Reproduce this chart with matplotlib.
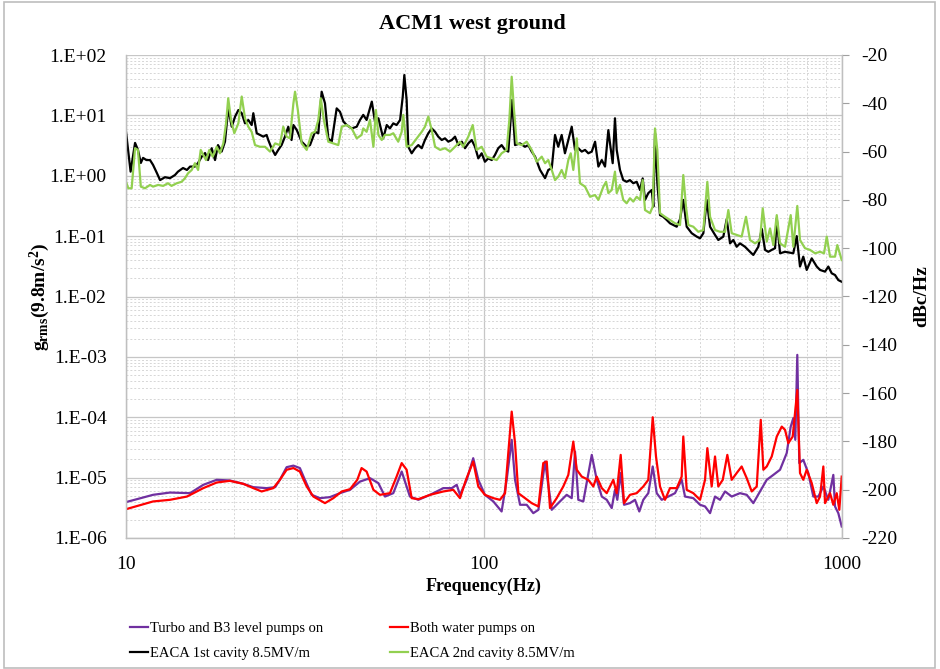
import math
import matplotlib as mpl
mpl.use('Agg')
import matplotlib.pyplot as plt
from matplotlib.ticker import FixedLocator, FuncFormatter, LogLocator, NullFormatter
from matplotlib.patches import Rectangle

plt.rcParams['font.family'] = ['Liberation Serif', 'DejaVu Serif']
plt.rcParams['mathtext.fontset'] = 'custom'
plt.rcParams['mathtext.rm'] = 'Liberation Serif'
plt.rcParams['mathtext.it'] = 'Liberation Serif:italic'
plt.rcParams['mathtext.bf'] = 'Liberation Serif:bold'
plt.rcParams['axes.unicode_minus'] = False

# Turbo and B3 level pumps on (g_rms, left axis)
f_turbo = [10.0, 11.9, 13.27, 15.1, 16.44, 17.92, 19.5, 21.27, 22.68, 24.7, 26.1, 26.9, 28.1, 29.35,
           30.6, 31.6, 33.0, 34.8, 37.1, 39.6, 42.25, 45.04, 48.04, 50.7, 52.9, 55.8, 58.9, 62.1,
           65.55, 70.7, 77.0, 81.3, 83.9, 85.7, 89.5, 93.3, 96.4, 100.6, 106.2, 112.0, 115.7, 119.5,
           122.1, 126.1, 131.6, 137.3, 141.9, 148.1, 154.6, 163.0, 170.2, 175.8, 179.6, 183.4, 189.4,
           200.0, 206.5, 213.3, 220.2, 227.4, 232.2, 235.7, 240.9, 246.1, 255.7, 264.1, 271.5, 278.6,
           287.7, 296.0, 303.7, 313.6, 327.2, 341.6, 356.6, 364.3, 384.3, 401.3, 414.4, 428.0, 441.9,
           456.3, 471.3, 492.0, 518.8, 541.8, 565.3, 590.2, 616.3, 643.0, 671.3, 700.8, 719.0, 731.1,
           740.6, 750.1, 759.8, 779.6, 805.2, 831.6, 858.9, 886.9, 915.8, 945.7, 956.1, 976.6, 998.2]
g_turbo = [3.93e-6, 5.19e-6, 5.66e-6, 5.53e-6, 7.6e-6, 9.2e-6, 8.97e-6, 7.89e-6, 6.95e-6, 6.7e-6,
           6.95e-6, 9.2e-6, 1.49e-5, 1.58e-5, 1.44e-5, 9.2e-6, 5.19e-6, 4.57e-6, 4.75e-6, 5.53e-6,
           6.28e-6, 8.6e-6, 9.8e-6, 8.1e-6, 4.86e-6, 5.53e-6, 1.26e-5, 4.86e-6, 4.29e-6, 5.19e-6,
           6.7e-6, 6.7e-6, 7.6e-6, 5.19e-6, 9.2e-6, 2.1e-5, 9.2e-6, 5.19e-6, 4.03e-6, 2.75e-6,
           9.2e-6, 4.23e-5, 9.2e-6, 3.55e-6, 3.55e-6, 2.58e-6, 2.93e-6, 1.85e-5, 2.93e-6, 4.03e-6,
           5.19e-6, 4.57e-6, 2.7e-5, 4.29e-6, 4.03e-6, 2.38e-5, 9.2e-6, 4.86e-6, 4.29e-6, 3.13e-6,
           6.28e-6, 4.29e-6, 1.19e-5, 3.55e-6, 3.78e-6, 4.29e-6, 2.75e-6, 4.29e-6, 5.53e-6, 1.53e-5,
           5.53e-6, 4.29e-6, 4.86e-6, 5.53e-6, 9.2e-6, 4.86e-6, 4.57e-6, 3.55e-6, 3.33e-6, 2.58e-6,
           4.86e-6, 4.29e-6, 5.9e-6, 4.86e-6, 5.53e-6, 5.19e-6, 3.78e-6, 5.9e-6, 9.2e-6, 1.11e-5,
           1.35e-5, 2.55e-5, 7.0e-5, 9.66e-5, 4.23e-5, 1.08e-3, 1.74e-5, 1.97e-5, 1.19e-5, 4.86e-6,
           4.86e-6, 7.13e-6, 4.29e-6, 1.11e-5, 3.33e-6, 2.58e-6, 1.55e-6]

# Both water pumps on (g_rms, left axis)
f_water = [10.0, 11.9, 13.27, 14.8, 16.44, 17.92, 19.5, 21.27, 22.68, 23.93, 25.8, 26.9, 28.1, 29.35,
           30.6, 31.97, 33.37, 35.96, 37.94, 40.05, 42.25, 44.27, 45.5, 47.0, 49.1, 51.2, 54.6, 57.0,
           58.9, 60.8, 62.8, 65.55, 70.7, 77.0, 82.1, 85.7, 89.05, 93.3, 96.4, 100.6, 106.2, 110.8,
           114.5, 116.9, 119.5, 122.1, 124.7, 130.2, 135.9, 141.9, 146.4, 149.7, 152.9, 159.6, 166.5,
           172.0, 177.6, 181.6, 187.5, 195.6, 202.0, 206.5, 213.3, 220.2, 229.7, 234.8, 240.9, 246.1,
           255.7, 267.0, 278.6, 287.7, 296.0, 302.3, 310.2, 320.3, 330.8, 345.4, 356.6, 360.3, 368.3,
           384.3, 401.3, 414.4, 420.6, 432.5, 441.9, 451.3, 464.4, 478.3, 492.0, 507.9, 524.5, 541.8,
           559.6, 577.8, 593.0, 603.0, 616.3, 636.4, 657.3, 678.8, 693.3, 707.9, 728.3, 750.1, 763.3,
           779.6, 796.9, 823.1, 850.0, 868.3, 886.9, 896.6, 925.9, 945.7, 966.5, 982.9, 998.2]
g_water = [3.0e-6, 4.03e-6, 4.29e-6, 4.86e-6, 6.7e-6, 8.3e-6, 8.85e-6, 7.89e-6, 6.7e-6, 5.9e-6,
           6.7e-6, 9.2e-6, 1.35e-5, 1.44e-5, 1.26e-5, 7.13e-6, 4.86e-6, 3.78e-6, 4.57e-6, 5.9e-6,
           6.44e-6, 9.2e-6, 1.44e-5, 1.26e-5, 6.28e-6, 5.19e-6, 5.53e-6, 1.04e-5, 1.74e-5, 1.35e-5,
           4.57e-6, 4.4e-6, 5.19e-6, 5.9e-6, 6.28e-6, 4.57e-6, 9.2e-6, 1.85e-5, 7.13e-6, 5.19e-6,
           4.57e-6, 4.29e-6, 5.53e-6, 2.55e-5, 1.24e-4, 3.72e-5, 5.53e-6, 4.57e-6, 3.78e-6, 3.33e-6,
           1.74e-5, 1.85e-5, 3.13e-6, 4.57e-6, 7.13e-6, 1.11e-5, 3.96e-5, 1.35e-5, 1.04e-5, 9.2e-6,
           7.13e-6, 1.04e-5, 6.7e-6, 5.53e-6, 9.2e-6, 5.53e-6, 2.38e-5, 3.78e-6, 5.19e-6, 5.53e-6,
           7.13e-6, 9.2e-6, 1.0e-4, 2.24e-5, 7.13e-6, 4.29e-6, 6.7e-6, 6.7e-6, 1.04e-5, 4.79e-5,
           6.28e-6, 5.53e-6, 4.29e-6, 9.2e-6, 3.08e-5, 7.13e-6, 2.24e-5, 7.13e-6, 9.2e-6, 2.38e-5,
           9.2e-6, 1.19e-5, 1.53e-5, 9.8e-6, 5.9e-6, 7.13e-6, 9.06e-5, 1.35e-5, 1.53e-5, 2.24e-5,
           4.79e-5, 7.0e-5, 6.18e-5, 3.72e-5, 4.79e-5, 2.84e-4, 1.19e-5, 9.2e-6, 1.35e-5, 8.1e-6,
           3.78e-6, 4.86e-6, 1.53e-5, 3.78e-6, 5.53e-6, 3.55e-6, 5.53e-6, 2.93e-6, 1.04e-5]

# EACA 1st cavity 8.5MV/m (dBc/Hz, right axis)
f_cav1 = [10.0, 10.3, 10.6, 10.8, 11.0, 11.16, 11.4, 11.67, 11.9, 12.2, 12.45, 12.85, 13.27, 13.7,
          13.97, 14.43, 14.8, 15.1, 15.58, 15.9, 16.27, 16.63, 16.95, 17.35, 17.73, 18.07, 18.5, 18.9,
          19.3, 19.74, 20.17, 20.6, 21.05, 21.5, 21.96, 22.44, 22.68, 23.18, 23.67, 24.18, 24.7, 24.97,
          25.5, 26.1, 26.63, 27.2, 27.8, 28.4, 29.0, 29.35, 30.0, 30.95, 31.97, 32.66, 33.73, 34.45,
          35.2, 35.96, 36.74, 37.55, 38.77, 39.6, 40.5, 41.35, 42.7, 44.1, 45.04, 46.0, 47.0, 48.6,
          49.6, 50.7, 52.3, 53.5, 54.6, 55.8, 57.0, 58.3, 59.3, 59.9, 60.8, 61.45, 62.8, 64.2, 65.55,
          67.0, 68.4, 69.9, 71.45, 73.0, 74.5, 76.2, 77.8, 79.5, 81.3, 83.0, 84.8, 86.7, 88.5, 90.4,
          92.4, 94.4, 96.4, 98.5, 100.6, 102.8, 105.1, 107.3, 109.6, 112.0, 114.5, 116.9, 119.8, 122.1,
          126.1, 130.2, 133.0, 135.9, 138.9, 143.4, 148.1, 151.2, 154.6, 157.9, 161.2, 164.8, 168.3,
          172.0, 175.8, 179.6, 183.4, 187.5, 191.5, 195.6, 200.0, 204.3, 208.7, 213.3, 217.8, 222.5,
          224.9, 228.8, 232.2, 234.8, 239.8, 244.9, 250.3, 255.7, 261.2, 267.0, 272.8, 277.5, 281.7,
          287.7, 294.1, 297.2, 300.4, 304.9, 310.2, 316.8, 323.8, 330.8, 337.9, 345.4, 352.8, 360.3,
          368.3, 380.4, 392.8, 401.3, 409.9, 419.0, 428.0, 441.9, 451.3, 466.1, 476.4, 486.7, 497.1,
          507.9, 518.8, 535.8, 553.4, 565.3, 583.8, 596.8, 609.5, 622.6, 636.4, 650.1, 657.3, 671.3,
          693.3, 731.1, 747.3, 763.3, 779.6, 796.9, 823.1, 850.0, 868.3, 896.6, 915.8, 936.1, 956.1,
          976.6, 998.2]
db_cav1 = [-51.8, -68.3, -56.4, -59.3, -64.7, -62.6, -63.5, -63.5, -65.5, -68.9, -71.8, -70.6, -71.0,
           -69.7, -68.3, -66.8, -67.6, -66.2, -66.2, -64.7, -62.1, -60.6, -63.5, -58.6, -63.5, -57.3,
           -60.0, -55.9, -42.1, -49.7, -45.5, -42.8, -44.1, -48.3, -46.9, -49.0, -44.1, -52.4, -53.1,
           -53.8, -53.1, -55.2, -58.6, -61.4, -59.3, -57.3, -53.8, -49.7, -55.2, -49.0, -51.1, -55.9,
           -58.0, -57.3, -51.8, -52.4, -35.2, -40.0, -54.5, -55.9, -42.1, -43.5, -47.6, -49.0, -50.4,
           -49.7, -46.9, -44.8, -46.9, -39.3, -47.6, -46.2, -54.5, -49.0, -50.4, -48.3, -49.0, -46.9,
           -37.2, -28.3, -38.6, -58.0, -60.7, -58.6, -57.3, -58.6, -55.2, -52.4, -50.4, -51.8, -53.8,
           -55.2, -54.5, -55.9, -55.2, -53.8, -57.3, -55.9, -58.6, -56.6, -55.2, -58.0, -62.8, -60.7,
           -64.2, -62.8, -63.5, -61.4, -58.6, -57.3, -59.3, -60.0, -38.6, -57.3, -56.6, -58.0, -57.3,
           -60.0, -62.1, -67.6, -71.0, -67.6, -66.9, -53.1, -58.0, -53.1, -60.7, -55.2, -49.7, -59.3,
           -58.6, -60.0, -59.3, -60.7, -60.0, -55.9, -66.2, -63.5, -66.2, -51.1, -56.6, -64.8, -46.2,
           -59.3, -67.6, -71.8, -72.5, -71.8, -73.1, -72.5, -75.9, -71.1, -80.0, -77.2, -75.9, -82.8,
           -52.4, -73.1, -86.3, -87.0, -88.3, -89.7, -90.4, -91.1, -88.0, -80.0, -91.1, -93.8, -95.2,
           -95.9, -93.8, -80.0, -91.1, -94.5, -96.6, -95.2, -88.0, -98.0, -96.6, -99.4, -98.0, -99.4,
           -101.5, -102.8, -99.4, -92.0, -100.7, -101.5, -100.7, -100.0, -87.6, -102.1, -101.5, -102.1,
           -95.0, -107.6, -103.5, -109.0, -104.2, -107.6, -109.0, -109.7, -107.6, -110.4, -111.1,
           -113.2, -113.9]

# EACA 2nd cavity 8.5MV/m (dBc/Hz, right axis)
f_cav2 = [10.0, 10.15, 10.37, 10.6, 10.8, 11.0, 11.3, 11.67, 11.9, 12.3, 12.7, 13.1, 13.4, 13.86,
          14.3, 14.6, 14.9, 15.26, 15.58, 15.9, 16.17, 16.44, 16.73, 17.09, 17.47, 17.92, 18.3, 18.7,
          19.03, 19.3, 19.65, 20.07, 20.6, 21.05, 21.5, 21.96, 22.44, 22.93, 23.67, 24.45, 25.25, 26.1,
          26.9, 27.5, 28.1, 28.7, 29.35, 29.66, 30.2, 30.95, 31.97, 33.0, 33.73, 34.45, 35.0, 35.7,
          36.74, 37.94, 39.17, 40.05, 41.35, 42.7, 44.1, 45.5, 46.0, 47.0, 48.04, 49.1, 49.9, 50.7,
          51.8, 52.9, 54.6, 55.8, 57.6, 58.9, 59.5, 60.8, 62.8, 64.9, 67.0, 68.4, 69.9, 71.45, 73.0,
          75.4, 77.8, 80.4, 83.0, 85.7, 87.5, 90.4, 93.0, 95.4, 98.5, 101.7, 105.1, 108.5, 112.0,
          115.7, 117.7, 119.5, 121.3, 123.4, 127.5, 131.6, 135.9, 140.4, 145.0, 148.1, 151.2, 154.6,
          157.9, 161.2, 164.8, 168.3, 172.0, 174.7, 177.6, 181.6, 185.4, 191.5, 197.8, 204.3, 208.7,
          215.5, 219.3, 222.5, 227.4, 232.2, 234.8, 239.8, 244.9, 250.3, 255.7, 261.2, 267.0, 272.8,
          277.5, 281.7, 290.9, 296.0, 300.4, 304.9, 310.2, 320.3, 330.8, 341.6, 352.8, 360.3, 366.6,
          372.2, 384.3, 396.8, 409.9, 420.6, 428.0, 441.9, 456.3, 471.3, 481.4, 492.0, 507.9, 524.5,
          539.3, 553.4, 571.5, 590.2, 600.6, 616.3, 629.5, 643.0, 657.3, 671.3, 693.3, 719.0, 731.1,
          750.1, 763.3, 788.1, 814.1, 840.8, 868.3, 890.9, 906.5, 925.9, 956.1, 970.3, 998.2]
db_cav2 = [-72.5, -75.2, -75.2, -58.6, -59.3, -74.5, -75.2, -73.8, -74.5, -73.8, -74.2, -73.1, -74.2,
           -73.1, -72.5, -71.1, -69.0, -67.6, -64.8, -67.6, -59.3, -61.4, -63.5, -59.3, -62.1, -58.0,
           -60.7, -56.6, -48.3, -37.9, -46.9, -52.4, -48.3, -37.2, -46.2, -49.7, -51.8, -57.3, -58.0,
           -58.0, -60.0, -56.6, -57.3, -49.7, -53.8, -54.5, -40.0, -35.2, -42.8, -56.6, -59.3, -52.4,
           -51.8, -46.9, -37.9, -46.9, -55.9, -56.6, -57.3, -49.7, -49.0, -50.4, -54.5, -53.1, -50.4,
           -51.8, -46.9, -58.0, -42.8, -53.1, -55.2, -53.1, -53.1, -52.4, -55.9, -51.8, -44.8, -58.0,
           -57.3, -54.5, -51.8, -49.7, -45.5, -51.1, -58.0, -59.3, -58.6, -60.0, -58.0, -55.9, -58.0,
           -53.8, -49.0, -59.3, -58.0, -62.1, -62.8, -63.5, -60.7, -59.3, -46.9, -29.0, -42.8, -56.6,
           -57.3, -55.9, -59.3, -64.2, -62.1, -64.8, -63.5, -67.6, -71.8, -70.4, -67.6, -71.0, -63.5,
           -60.7, -67.6, -54.5, -73.1, -74.5, -78.7, -78.0, -80.0, -74.5, -72.5, -77.2, -75.9, -68.3,
           -77.2, -73.8, -80.0, -81.4, -79.3, -80.7, -78.7, -80.0, -71.8, -84.2, -85.5, -82.8, -50.4,
           -59.3, -85.5, -87.0, -88.3, -89.7, -90.4, -69.7, -82.8, -90.4, -91.1, -93.2, -92.5, -72.5,
           -87.0, -92.5, -93.2, -93.2, -84.2, -93.8, -94.5, -95.2, -87.0, -96.6, -98.0, -96.6, -83.5,
           -97.3, -91.8, -98.7, -86.3, -98.0, -99.4, -86.3, -99.4, -82.5, -96.6, -100.0, -100.7,
           -102.1, -101.5, -102.1, -95.2, -103.5, -103.5, -98.7, -104.9]

x_ticks = [10, 100, 1000]
grid_major = '#c6c6c6'
grid_minor = '#d6d6d6'

fig = plt.figure(figsize=(9.4, 6.69), dpi=100)
ax = fig.add_axes([126 / 940, 1 - 538 / 669, 716 / 940, 483 / 669])
ax2 = ax.twinx()

l1, = ax.plot(f_turbo, g_turbo, color='#7030A0', lw=1.6, label='Turbo and B3 level pumps on')
l2, = ax.plot(f_water, g_water, color='#FF0000', lw=1.6, label='Both water pumps on')
l3, = ax2.plot(f_cav1, db_cav1, color='#000000', lw=1.6, label='EACA 1st cavity 8.5MV/m')
l4, = ax2.plot(f_cav2, db_cav2, color='#92D050', lw=1.6, label='EACA 2nd cavity 8.5MV/m')

ax.set_xscale('log')
ax.set_yscale('log')
ax.set_xlim(10, 1000)
ax.set_ylim(1e-6, 1e2)
ax2.set_ylim(-220, -20)
ax2.set_yticks(range(-220, -19, 20))

ax.xaxis.set_major_locator(FixedLocator(x_ticks))
ax.xaxis.set_major_formatter(FuncFormatter(lambda v, p: f'{v:g}'))
ax.xaxis.set_minor_formatter(NullFormatter())
ax.yaxis.set_major_locator(LogLocator(base=10, numticks=20))
ax.yaxis.set_minor_locator(LogLocator(base=10, subs=range(2, 10), numticks=20))
ax.yaxis.set_major_formatter(FuncFormatter(lambda v, p: '1.E{:+03d}'.format(int(round(math.log10(v))))))
ax.yaxis.set_minor_formatter(NullFormatter())

ax.grid(which='major', color=grid_major, lw=0.9, ls='-')
ax.grid(which='minor', color=grid_minor, lw=0.7, ls=(0, (2, 2)))
ax.set_axisbelow(True)

ax.tick_params(axis='both', which='both', length=0, labelsize=14)
ax.tick_params(axis='y', pad=14)
ax.tick_params(axis='x', pad=13)
ax2.tick_params(axis='y', which='major', length=5, width=0.8, color='#a0a0a0', pad=9, labelsize=14)
ax2.tick_params(axis='y', which='minor', length=0)

for a in (ax, ax2):
    for s in a.spines.values():
        s.set_color('#bfbfbf')
        s.set_linewidth(0.9)
ax.spines['top'].set_visible(False)
ax2.spines['top'].set_visible(False)

ax.set_xlabel('Frequency(Hz)', fontsize=13, fontweight='bold')
ax.xaxis.set_label_coords(0.5, -0.083)
ax.set_ylabel(r'$\mathbf{g}_{\mathbf{rms}}\mathbf{(9.8m/s^2)}$', fontsize=14)
ax.yaxis.set_label_coords(-0.103, 0.5)
ax2.set_ylabel('dBc/Hz', fontsize=14, fontweight='bold')
ax2.yaxis.set_label_coords(1.100, 0.5)

fig.text(472 / 940, 1 - 24 / 669, 'ACM1 west ground', ha='center', va='center',
         fontsize=16, fontweight='bold')

fig.legend(handles=[l1, l3, l2, l4], loc='upper left', bbox_to_anchor=(130 / 940, 1 - 622 / 669),
           ncol=2, frameon=False, fontsize=10.5, handlelength=1.25, handletextpad=0.1,
           columnspacing=4.6, labelspacing=0.78, borderaxespad=0, borderpad=0)

fig.patches.append(Rectangle((4 / 940, 1 / 669), 931 / 940, 666 / 669, transform=fig.transFigure,
                             fill=False, edgecolor='#bdbdbd', lw=1.2))

fig.savefig('out.png', dpi=100)
